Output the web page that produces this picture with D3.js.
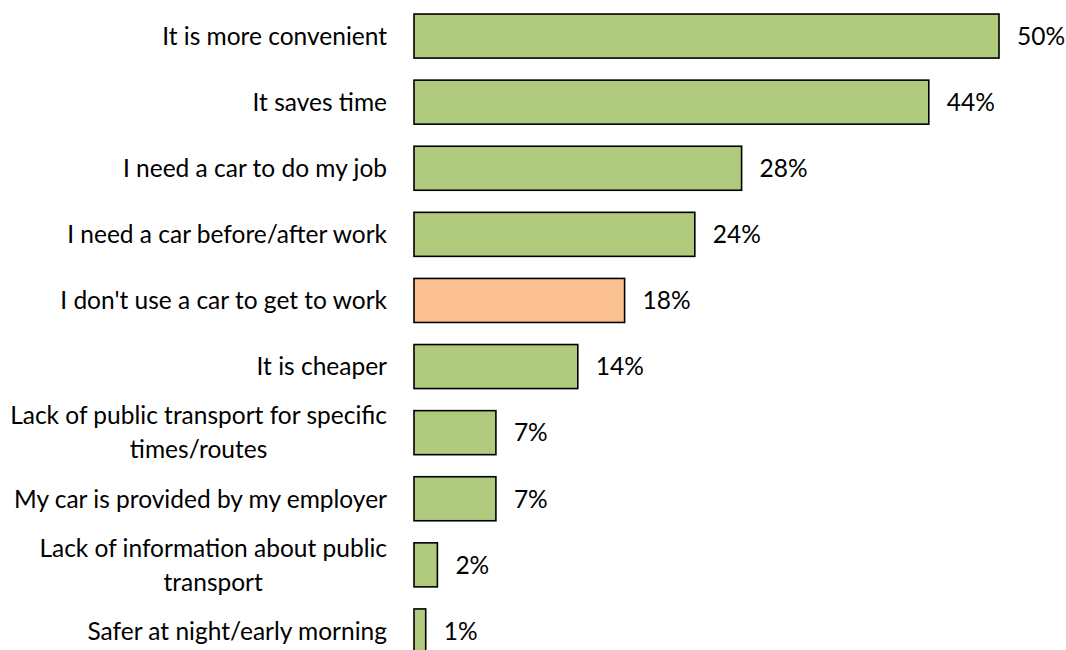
<!DOCTYPE html>
<html>
<head>
<meta charset="utf-8">
<script src="https://cdn.jsdelivr.net/npm/d3@7"></script>
<style>
  html, body { margin: 0; padding: 0; background: #fff; }
  svg { display: block; }
  text { font-family: Lato, "Open Sans", sans-serif; fill: #000; }
</style>
</head>
<body>
<svg id="chart" width="1066" height="650"></svg>
<script>
// Reasons for driving to work (share of respondents)
const categories = [
  "It is more convenient",
  "It saves time",
  "I need a car to do my job",
  "I need a car before/after work",
  "I don't use a car to get to work",
  "It is cheaper",
  "Lack of public transport for specific|times/routes",
  "My car is provided by my employer",
  "Lack of information about public|transport",
  "Safer at night/early morning"
];
const values = [50, 44, 28, 24, 18, 14, 7, 7, 2, 1];
const highlight = [false, false, false, false, true, false, false, false, false, false];

const colours = { normal: "#B0CB7E", highlight: "#FAC090" };
const fontSize = 24.5;

const svg = d3.select("#chart");
const left = 414, right = 999;
const labelRight = 387;

const x = d3.scaleLinear().domain([0, 50]).range([left, right]);
const y = d3.scaleBand()
  .domain(categories)
  .range([3, 664])
  .paddingInner(0.334)
  .paddingOuter(0.167);

const rows = svg.selectAll("g.row")
  .data(categories.map((c, i) => ({ c, v: values[i], h: highlight[i] })))
  .join("g")
  .attr("class", "row");

rows.append("rect")
  .attr("x", x(0))
  .attr("y", d => y(d.c))
  .attr("width", d => x(d.v) - x(0))
  .attr("height", y.bandwidth())
  .attr("fill", d => d.h ? colours.highlight : colours.normal)
  .attr("stroke", "#000")
  .attr("stroke-width", 1.6);

rows.append("text")
  .attr("x", d => x(d.v) + 18)
  .attr("y", d => y(d.c) + y.bandwidth() / 2)
  .attr("dy", "0.36em")
  .attr("font-size", fontSize)
  .text(d => d.v + "%");

// Category labels: right-aligned; wrapped labels are centred as a block
rows.each(function (d) {
  const lines = d.c.split("|");
  const cy = y(d.c) + y.bandwidth() / 2;
  const lh = 34;
  const t = d3.select(this).append("text")
    .attr("font-size", fontSize);
  if (lines.length === 1) {
    t.attr("text-anchor", "end")
      .attr("x", labelRight).attr("y", cy).attr("dy", "0.36em").text(lines[0]);
  } else {
    t.attr("text-anchor", "middle");
    const spans = lines.map((ln, k) => t.append("tspan")
      .attr("y", cy + (k - (lines.length - 1) / 2) * lh)
      .attr("dy", "0.36em")
      .text(ln));
    const widest = d3.max(spans, s => s.node().getComputedTextLength());
    spans.forEach(s => s.attr("x", labelRight - widest / 2));
  }
});
</script>
</body>
</html>
